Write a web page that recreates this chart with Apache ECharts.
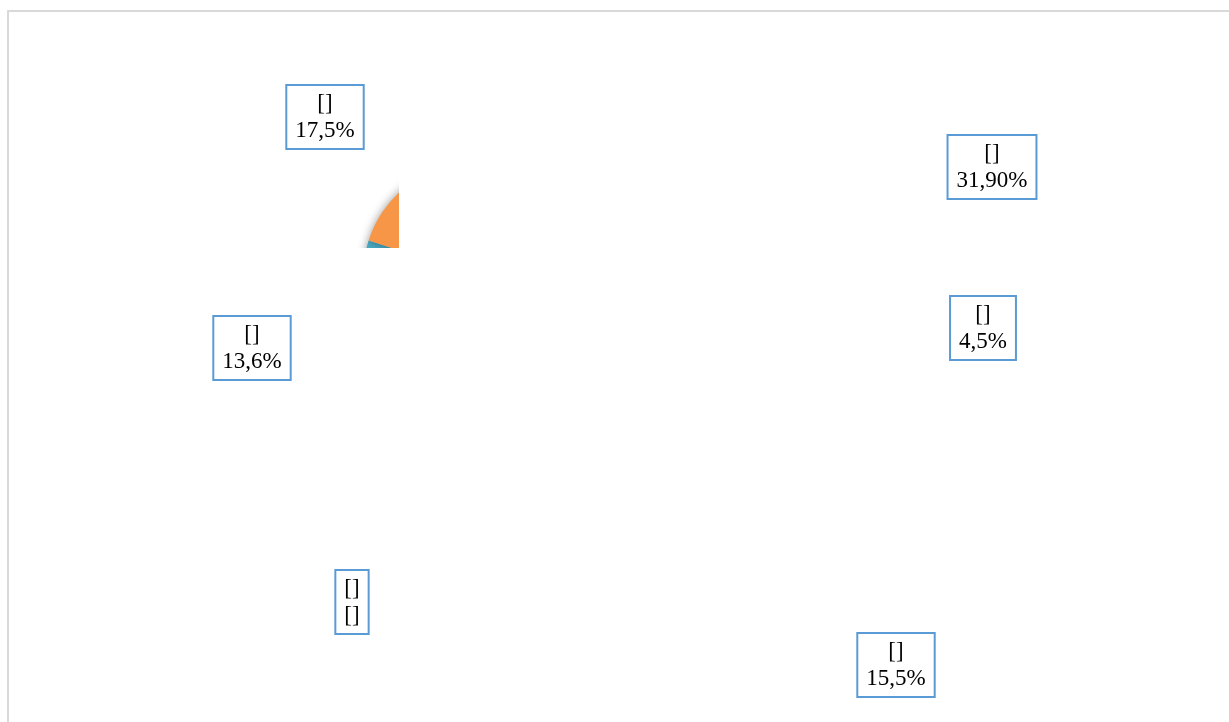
<!DOCTYPE html>
<html>
<head>
<meta charset="utf-8">
<title>pie</title>
<script src="https://cdn.jsdelivr.net/npm/echarts@6/dist/echarts.min.js"></script>
<style>
html, body { margin: 0; padding: 0; background: #fff; width: 1229px; height: 722px; overflow: hidden; }
.frame { position: absolute; left: 7px; top: 10px; width: 1300px; height: 800px; border-left: 2px solid #d9d9d9; border-top: 2px solid #d9d9d9; }
/* the pie only shows through this small window */
#pieWindow { position: absolute; left: 330px; top: 170px; width: 69px; height: 78px; }
#labels { position: absolute; left: 0; top: 0; width: 1229px; height: 722px; }
</style>
</head>
<body>
<div class="frame"></div>
<div id="pieWindow"></div>
<div id="labels"></div>
<script>
// slice shares (%), clockwise from the top
const shares = [31.9, 4.5, 15.5, 17.0, 13.6, 17.5];
const categories = ['[]', '[]', '[]', '[]', '[]', '[]'];
const valueLabels = ['31,90%', '4,5%', '15,5%', '[]', '13,6%', '17,5%'];
const colors = ['#4F81BD', '#C0504D', '#9BBB59', '#8064A2', '#4BACC6', '#F79646'];

// label box centres as placed in the original
const labelX = [992, 983, 896, 352, 252, 325];
const labelY = [167, 328, 665, 602, 348, 117];

const pieData = shares.map((v, i) => ({ name: categories[i] + i, value: v }));

// clipped pie
const pieChart = echarts.init(document.getElementById('pieWindow'));
pieChart.setOption({
    animation: false,
    color: colors,
    series: [{
        type: 'pie',
        silent: true,
        center: [148, 106],
        radius: 115,
        startAngle: 99,
        label: { show: false },
        labelLine: { show: false },
        itemStyle: {
            borderWidth: 0,
            shadowBlur: 10,
            shadowColor: 'rgba(0,0,0,0.4)'
        },
        data: pieData
    }]
});

// data labels over the whole area
const labelChart = echarts.init(document.getElementById('labels'));
labelChart.setOption({
    animation: false,
    series: [{
        type: 'pie',
        silent: true,
        center: [478, 276],
        radius: 2,
        startAngle: 99,
        avoidLabelOverlap: false,
        itemStyle: { color: 'rgba(0,0,0,0)' },
        labelLine: { show: false },
        label: {
            show: true,
            position: 'outside',
            formatter: p => categories[p.dataIndex] + '\n' + valueLabels[p.dataIndex],
            fontFamily: 'Liberation Serif',
            fontSize: 23,
            lineHeight: 27,
            color: '#000',
            align: 'center',
            backgroundColor: '#fff',
            borderColor: '#5B9BD5',
            borderWidth: 2,
            padding: [6, 8, 2, 8]
        },
        labelLayout: p => ({
            x: labelX[p.dataIndex],
            y: labelY[p.dataIndex],
            align: 'center',
            verticalAlign: 'middle'
        }),
        data: pieData
    }]
});
</script>
</body>
</html>
